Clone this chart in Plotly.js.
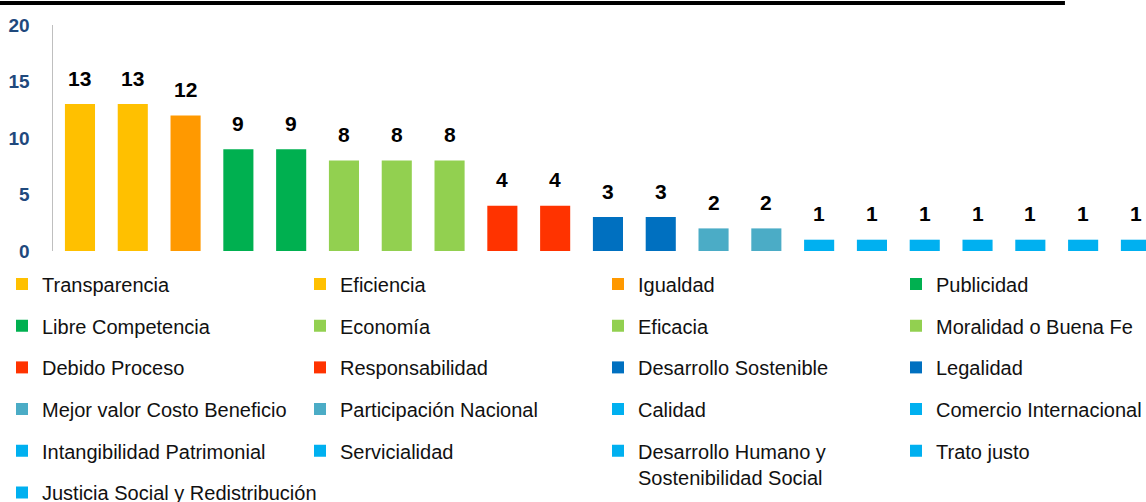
<!DOCTYPE html>
<html>
<head>
<meta charset="utf-8">
<script src="https://cdn.plot.ly/plotly-3.0.1.min.js"></script>
<style>
  html, body { margin: 0; padding: 0; background: #fff; overflow: hidden; }
  #plot { width: 1260px; height: 540px; }
</style>
</head>
<body>
<div id="plot"></div>
<script>
// principles and how many times each one shows up
let principles = [
    "Transparencia", "Eficiencia", "Igualdad", "Publicidad",
    "Libre Competencia", "Economía", "Eficacia", "Moralidad o Buena Fe",
    "Debido Proceso", "Responsabilidad", "Desarrollo Sostenible", "Legalidad",
    "Mejor valor Costo Beneficio", "Participación Nacional", "Calidad", "Comercio Internacional",
    "Intangibilidad Patrimonial", "Servicialidad", "Desarrollo Humano y<br>Sostenibilidad Social", "Trato justo",
    "Justicia Social y Redistribución"
];
let counts = [13, 13, 12, 9, 9, 8, 8, 8, 4, 4, 3, 3, 2, 2, 1, 1, 1, 1, 1, 1, 1];
let yTicks = [0, 5, 10, 15, 20];

// one colour per bar
let barColors = [
    "#FFC000", "#FFC000", "#FF9900", "#00B050",
    "#00B050", "#92D050", "#92D050", "#92D050",
    "#FF3300", "#FF3300", "#0070C0", "#0070C0",
    "#4BACC6", "#4BACC6", "#00B0F0", "#00B0F0",
    "#00B0F0", "#00B0F0", "#00B0F0", "#00B0F0",
    "#00B0F0"
];

// legend is laid out 4 per row, each row is its own legend box
let perRow = 4;
let rowStep = 41.7;       // px between legend rows
let firstRowCenter = 284; // px from top of the page
let legendFont = 20;
let plotTop = 25, plotBottom = 251;

let data = [];
let labels = [];
for (var i = 0; i < principles.length; i++) {
    var row = Math.floor(i / perRow);
    data.push({
        x: [principles[i]],
        y: [counts[i]],
        name: principles[i],
        type: "bar",
        width: 0.57,
        marker: { color: barColors[i], line: { width: 0 } },
        legend: row === 0 ? "legend" : "legend" + (row + 1),
        hoverinfo: "name+y"
    });

    // value labels above the bars
    labels.push({
        x: principles[i],
        y: counts[i],
        text: "<b>" + counts[i] + "</b>",
        showarrow: false,
        yanchor: "middle",
        yshift: 26,
        font: { family: "Arial, Liberation Sans, sans-serif", size: 21, color: "#000" }
    });
}

let layout = {
    width: 1260,
    height: 540,
    margin: { l: 53, r: 0, t: plotTop, b: 540 - plotBottom, autoexpand: false },
    paper_bgcolor: "#fff",
    plot_bgcolor: "#fff",
    barmode: "overlay",
    font: { family: "Arial, Liberation Sans, sans-serif" },
    xaxis: {
        type: "category",
        range: [-0.511, 22.35],
        showticklabels: false,
        showgrid: false,
        zeroline: false,
        showline: false,
        ticks: ""
    },
    yaxis: {
        range: [0, 20],
        tickvals: yTicks,
        ticktext: yTicks.map(function (v) { return "<b>" + v + "</b>"; }),
        tickfont: { family: "Arial, Liberation Sans, sans-serif", size: 19, color: "#1F497D" },
        showgrid: false,
        zeroline: false,
        showline: true,
        linecolor: "#BFBFBF",
        linewidth: 1.5,
        ticks: "",
        ticklabelstandoff: 18
    },
    annotations: labels,
    shapes: [{
        type: "line",
        xref: "paper", yref: "paper",
        x0: -0.05, x1: 0.8384,
        y0: 1.097, y1: 1.097,
        line: { color: "#000", width: 4 }
    }],
    showlegend: true
};

// place each legend row
var itemHalf = 5 + (legendFont * 1.3 + 3) / 2;
var nRows = Math.ceil(principles.length / perRow);
for (var r = 0; r < nRows; r++) {
    var topPx = firstRowCenter + rowStep * r - itemHalf;
    var fullRow = (r + 1) * perRow <= principles.length;
    layout[r === 0 ? "legend" : "legend" + (r + 1)] = {
        orientation: "h",
        x: (2 - 53) / 1207,
        xanchor: "left",
        y: (plotBottom - topPx) / (plotBottom - plotTop),
        yanchor: "top",
        entrywidth: fullRow ? 253 : 0,
        entrywidthmode: "pixels",
        valign: "top",
        bgcolor: "rgba(0,0,0,0)",
        font: { family: "Arial, Liberation Sans, sans-serif", size: legendFont, color: "#111" }
    };
}

Plotly.newPlot("plot", data, layout, { displayModeBar: false, staticPlot: true });
</script>
</body>
</html>
